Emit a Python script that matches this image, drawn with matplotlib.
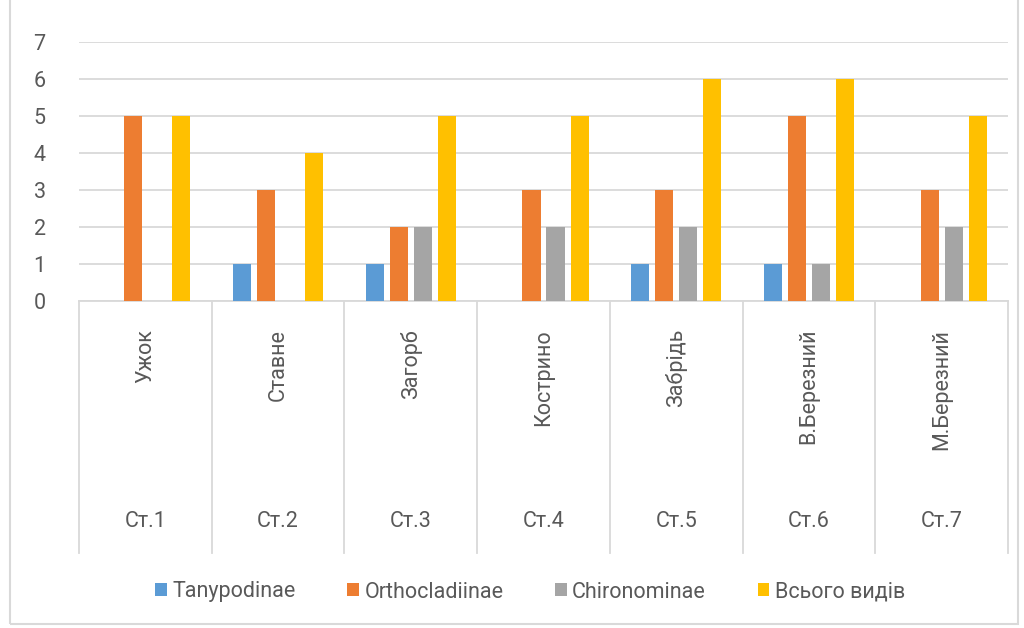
import numpy as np
import matplotlib.pyplot as plt
from matplotlib.transforms import blended_transform_factory
from matplotlib.patches import Rectangle

plt.rcParams['font.family'] = ['Roboto', 'DejaVu Sans']

# données
stations = ['Ст.1', 'Ст.2', 'Ст.3', 'Ст.4', 'Ст.5', 'Ст.6', 'Ст.7']
places = ['Ужок', 'Ставне', 'Загорб', 'Кострино', 'Забрідь', 'В.Березний', 'М.Березний']
series_names = ['Tanypodinae', 'Orthocladiinae', 'Chironominae', 'Всього видів']
tanypodinae = [0, 1, 1, 0, 1, 1, 0]
orthocladiinae = [5, 3, 2, 3, 3, 5, 3]
chironominae = [0, 0, 2, 2, 2, 1, 2]
total = [5, 4, 5, 5, 6, 6, 5]
colors = ['#5B9BD5', '#ED7D31', '#A5A5A5', '#FFC000']

txt = '#595959'
grid_c = '#D9D9D9'
fs = 15.5

fig = plt.figure(figsize=(10.24, 6.28), dpi=100)
ax = fig.add_axes([79/1024, 1-301/628, (1008-79)/1024, (301-41.5)/628])

x = np.arange(len(stations))
w = 0.136
step = 0.181
for k, (vals, name) in enumerate(zip([tanypodinae, orthocladiinae, chironominae, total], series_names)):
    ax.bar(x + (k - 1.5) * step, vals, width=w, color=colors[k], label=name, zorder=3)

ax.set_xlim(-0.5, len(stations) - 0.5)
ax.set_ylim(0, 7)
ax.set_yticks(range(8))
ax.yaxis.grid(True, color=grid_c, lw=1.3, zorder=0)
ax.tick_params(axis='y', length=0, pad=24, labelsize=fs, labelcolor=txt)
ax.set_xticks([])
for s in ['top', 'right', 'left']:
    ax.spines[s].set_visible(False)
ax.spines['bottom'].set_color(grid_c)
ax.spines['bottom'].set_linewidth(1.3)

# axe des catégories à deux niveaux
tr = blended_transform_factory(ax.transData, ax.transAxes)
depth = (553 - 301) / (301 - 41.5)
for b in np.arange(len(stations) + 1) - 0.5:
    ax.plot([b, b], [0, -depth], color=grid_c, lw=1.3, transform=tr, clip_on=False)
for i in range(len(stations)):
    ax.text(i, -(329 - 301) / 259.5, places[i], rotation=90, ha='center', va='top',
            fontsize=fs, color=txt, transform=tr)
    ax.text(i, -(522 - 301) / 259.5, stations[i], ha='center', va='center',
            fontsize=fs, color=txt, transform=tr)

fig.legend(loc='center', bbox_to_anchor=(530/1024, 1-592/628), ncol=4, frameon=False,
           fontsize=fs, labelcolor=txt, handlelength=0.55, handleheight=0.55,
           handletextpad=0.25, columnspacing=2.4)

# cadre du graphique
fig.add_artist(Rectangle((10/1024, 4/628), 1008/1024, 1.1, transform=fig.transFigure,
                         fill=False, edgecolor=grid_c, lw=1.5))

fig.savefig('out.png', dpi=100)
